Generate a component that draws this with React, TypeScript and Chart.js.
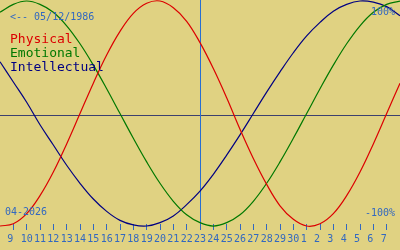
import React, { useEffect, useRef } from "react";
import { Chart, registerables } from "chart.js";

Chart.register(...registerables);

// Day numbers for x positions 0..30 (Apr 8 .. May 8, 2026)
const dayNumbers = [8, 9, 10, 11, 12, 13, 14, 15, 16, 17, 18, 19, 20, 21, 22, 23, 24, 25, 26, 27, 28, 29, 30, 1, 2, 3, 4, 5, 6, 7, 8];
// Ticks shown for positions 1..29
const tickPositions = [1, 2, 3, 4, 5, 6, 7, 8, 9, 10, 11, 12, 13, 14, 15, 16, 17, 18, 19, 20, 21, 22, 23, 24, 25, 26, 27, 28, 29];

const physical = [-1.0, -0.98, -0.89, -0.73, -0.52, -0.27, 0.0, 0.27, 0.52, 0.73, 0.89, 0.98, 1.0, 0.94, 0.82, 0.63, 0.4, 0.14, -0.14, -0.4, -0.63, -0.82, -0.94, -1.0, -0.98, -0.89, -0.73, -0.52, -0.27, 0.0, 0.27];
const emotional = [0.9, 0.97, 1.0, 0.97, 0.9, 0.78, 0.62, 0.43, 0.22, 0.0, -0.22, -0.43, -0.62, -0.78, -0.9, -0.97, -1.0, -0.97, -0.9, -0.78, -0.62, -0.43, -0.22, 0.0, 0.22, 0.43, 0.62, 0.78, 0.9, 0.97, 1.0];
const intellectual = [0.46, 0.28, 0.1, -0.1, -0.28, -0.46, -0.62, -0.76, -0.87, -0.95, -0.99, -1.0, -0.97, -0.91, -0.81, -0.69, -0.54, -0.37, -0.19, 0.0, 0.19, 0.37, 0.54, 0.69, 0.81, 0.91, 0.97, 1.0, 0.99, 0.95, 0.87];

const todayPosition = 15;
const birthText = "<-- 05/12/1986";
const monthText = "04-2026";
const topText = "100%";
const bottomText = "-100%";
const seriesNames = ["Physical", "Emotional", "Intellectual"];

const BG = "rgb(224,210,130)";
const BLUE_TEXT = "rgb(50,104,192)";
const TODAY_BLUE = "rgb(40,110,210)";
const MID_COLOR = "rgb(60,64,110)";
const RED = "rgb(220,0,0)";
const GREEN = "rgb(0,120,0)";
const NAVY = "rgb(0,0,130)";
const seriesColors = [RED, GREEN, NAVY];
const MONO = "'DejaVu Sans Mono', monospace";

const overlayPlugin = {
  id: "bioOverlay",
  beforeDraw(chart: any) {
    const ctx = chart.ctx;
    ctx.save();
    ctx.fillStyle = BG;
    ctx.fillRect(0, 0, chart.width, chart.height);
    ctx.restore();
  },
  beforeDatasetsDraw(chart: any) {
    const ctx = chart.ctx;
    const xs = chart.scales.x;
    const ys = chart.scales.y;
    const area = chart.chartArea;
    ctx.save();
    ctx.lineWidth = 1;
    const y0 = Math.round(ys.getPixelForValue(0)) + 1.5;
    ctx.strokeStyle = MID_COLOR;
    ctx.beginPath();
    ctx.moveTo(0, y0);
    ctx.lineTo(chart.width, y0);
    ctx.stroke();
    const xt = Math.round(xs.getPixelForValue(todayPosition)) + 0.5;
    ctx.strokeStyle = TODAY_BLUE;
    ctx.beginPath();
    ctx.moveTo(xt, 0);
    ctx.lineTo(xt, area.bottom);
    ctx.stroke();
    ctx.restore();
  },
  afterDraw(chart: any) {
    const ctx = chart.ctx;
    ctx.save();
    ctx.font = `10px ${MONO}`;
    ctx.fillStyle = BLUE_TEXT;
    ctx.textBaseline = "middle";
    ctx.textAlign = "left";
    ctx.fillText(birthText, 10, 17);
    ctx.fillText(monthText, 5, 212);
    ctx.textAlign = "right";
    ctx.fillText(topText, 395, 12);
    ctx.fillText(bottomText, 395, 213);
    ctx.font = `13px ${MONO}`;
    ctx.textAlign = "left";
    ctx.textBaseline = "alphabetic";
    seriesNames.forEach((n, i) => {
      ctx.fillStyle = seriesColors[i];
      ctx.fillText(n, 10, 43 + i * 14);
    });
    ctx.restore();
  },
};

export default function App() {
  const ref = useRef<HTMLCanvasElement | null>(null);
  useEffect(() => {
    if (!ref.current) return;
    const mk = (vals: number[]) => vals.map((v, i) => ({ x: i, y: v }));
    const chart = new Chart(ref.current, {
      type: "line",
      data: {
        datasets: [
          { label: seriesNames[0], data: mk(physical), borderColor: RED },
          { label: seriesNames[1], data: mk(emotional), borderColor: GREEN },
          { label: seriesNames[2], data: mk(intellectual), borderColor: NAVY },
        ].map((d) => ({ ...d, borderWidth: 1.2, pointRadius: 0, tension: 0.4, fill: false, clip: false as any })),
      },
      options: {
        animation: false,
        responsive: false,
        maintainAspectRatio: false,
        devicePixelRatio: 1,
        layout: { padding: { left: 0, right: 0, top: 0, bottom: 2 } },
        plugins: { legend: { display: false }, tooltip: { enabled: false } },
        scales: {
          x: {
            type: "linear",
            min: 0,
            max: 30,
            afterBuildTicks: (s: any) => {
              s.ticks = tickPositions.map((p) => ({ value: p }));
            },
            grid: { drawOnChartArea: false, drawTicks: true, tickLength: 6, color: BLUE_TEXT, lineWidth: 1 },
            border: { display: false },
            ticks: {
              autoSkip: false,
              maxRotation: 0,
              minRotation: 0,
              padding: 3,
              color: BLUE_TEXT,
              font: { family: MONO, size: 10 },
              callback: (v: any) => {
                const s = String(dayNumbers[Math.round(Number(v))]);
                return s.length === 1 ? s + " " : s;
              },
            },
          },
          y: { display: false, min: -0.982, max: 1.009 },
        },
      },
      plugins: [overlayPlugin],
    });
    return () => chart.destroy();
  }, []);
  return (
    <div style={{ position: "absolute", left: 0, top: 0, width: 400, height: 250, background: BG }}>
      <canvas ref={ref} width={400} height={250} style={{ display: "block", width: 400, height: 250 }} />
    </div>
  );
}
